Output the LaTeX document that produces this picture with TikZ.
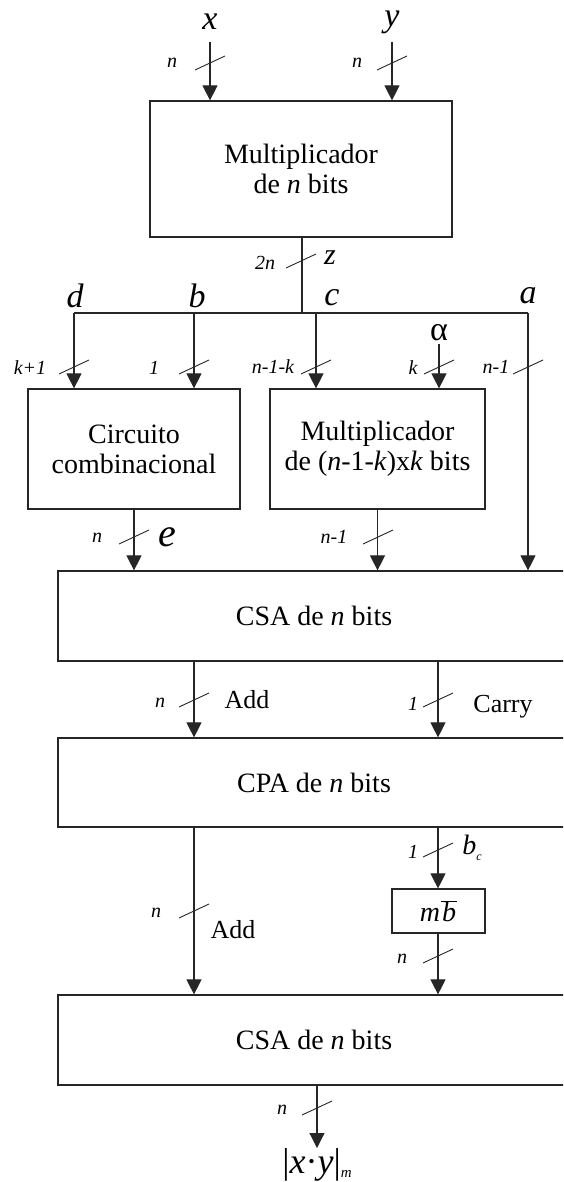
\documentclass[tikz,border=0pt]{standalone}
\usepackage{fontspec}
\setmainfont{Liberation Serif}
\usetikzlibrary{arrows.meta,calc}
\begin{document}
\begin{tikzpicture}[x=1pt,y=-1pt,
  line width=1.1pt, draw=black!85,
  arr/.style={-{Triangle[length=15pt,width=15pt]}},
  blk/.style={draw, line width=1.2pt, inner sep=0pt, align=center, font=\fontsize{28}{30}\selectfont},
  small/.style={inner sep=0pt, font=\fontsize{20}{20}\selectfont\itshape},
  big/.style={inner sep=0pt, font=\fontsize{34}{34}\selectfont\itshape},
  lbl/.style={inner sep=0pt, font=\fontsize{26}{26}\selectfont},
  busmark/.pic={\draw[line width=0.9pt] (-15,7) -- (15,-7);}
]
\clip (0,0) rectangle (563,1182);
% blocks
\node[blk, minimum width=302pt, minimum height=136pt] (mul) at (301,169) {Multiplicador\\de \textit{n} bits};
\node[blk, minimum width=212pt, minimum height=120pt] (comb) at (134,449) {Circuito\\combinacional};
\node[blk, minimum width=215pt, minimum height=120pt] (mulk) at (377.5,449) {Multiplicador\\de (\textit{n}-1-\textit{k})x\textit{k} bits};
\node[blk, minimum width=512pt, minimum height=90pt] (csa1) at (314,616) {CSA de \textit{n} bits};
\node[blk, minimum width=512pt, minimum height=89pt] (cpa) at (314,782.5) {CPA de \textit{n} bits};
\node[blk, minimum width=512pt, minimum height=90pt] (csa2) at (314,1040) {CSA de \textit{n} bits};
\node[blk, minimum width=93pt, minimum height=44pt] (mb) at (438.5,911) {\textit{m}\kern1pt$\overline{\mbox{\kern1pt\textit{b}\kern1pt}}$};
\node[inner sep=0pt, anchor=north, font=\fontsize{36}{36}\selectfont] (out) at (317,1148) {|\textit{x}·\textit{y}|\raisebox{-4pt}{\fontsize{15}{15}\selectfont\textit{m}}};
% coordinates
\coordinate (xin) at (210,42);
\coordinate (yin) at (392,42);
\coordinate (zj) at (302,313);
\coordinate (dj) at (74,313);
\coordinate (bj) at (194,313);
\coordinate (cj) at (316,313);
\coordinate (aj) at (528,313);
\coordinate (colA) at (194,0);
\coordinate (colB) at (438,0);
% top inputs
\node[big] (lx) at (210,22) {x};
\node[big] (ly) at (392,22) {y};
\draw[arr] (xin) -- (xin |- mul.north);
\draw[arr] (yin) -- (yin |- mul.north);
\pic at (210,63) {busmark};
\pic at (392,63) {busmark};
\node[small] (nx) at (172,63) {n};
\node[small] (ny) at (357,63) {n};
% z and bus
\draw (mul.south -| zj) -- (zj);
\pic at (301,261) {busmark};
\node[small] (n2n) at (265,263) {2n};
\node[big, font=\fontsize{30}{30}\selectfont\itshape] (lz) at (330,258) {z};
\draw (dj) -- (aj);
\node[big] (ld) at (75,296) {d};
\node[big] (lb) at (197,296) {b};
\node[big] (lc) at (332,298) {c};
\node[big] (la) at (528,296) {a};
\node[inner sep=2pt, font=\fontsize{34}{34}\selectfont] (alpha) at (439,333) {α};
\draw[arr] (dj) -- (dj |- comb.north);
\draw[arr] (bj) -- (bj |- comb.north);
\draw[arr] (cj) -- (cj |- mulk.north);
\draw[arr] (alpha.south) -- (alpha.south |- mulk.north);
\draw[arr] (aj) -- (aj |- csa1.north);
\pic at (74,367) {busmark};
\pic at (194,367) {busmark};
\pic at (316,367) {busmark};
\pic at (439,367) {busmark};
\pic at (528,367) {busmark};
\node[small] (nk1) at (30,368) {k+1};
\node[small] (n1b) at (154,368) {1};
\node[small] (nc) at (273,367) {n-1-k};
\node[small] (nk) at (413,368) {k};
\node[small] (na) at (496,367) {n-1};
% into CSA1
\draw[arr] (comb.south) -- (comb.south |- csa1.north);
\draw[arr] (mulk.south) -- (mulk.south |- csa1.north);
\pic at (134,537) {busmark};
\pic at (378,537) {busmark};
\node[small] (ne) at (97,538) {n};
\node[big, font=\fontsize{40}{40}\selectfont\itshape] (le) at (167,537) {e};
\node[small] (nm) at (334,537) {n-1};
% CSA1 -> CPA
\draw[arr] (csa1.south -| colA) -- (cpa.north -| colA);
\draw[arr] (csa1.south -| colB) -- (cpa.north -| colB);
\pic at (194,700) {busmark};
\pic at (438,700) {busmark};
\node[small] (nadd) at (160,703) {n};
\node[lbl] (ladd) at (247,700) {Add};
\node[small] (ncar) at (413,704) {1};
\node[lbl] (lcar) at (503,707) {Carry};
% CPA -> CSA2 / mb
\draw[arr] (cpa.south -| colA) -- (csa2.north -| colA);
\draw[arr] (cpa.south -| colB) -- (mb.north -| colB);
\draw[arr] (mb.south -| colB) -- (csa2.north -| colB);
\pic at (438,850) {busmark};
\pic at (194,911) {busmark};
\pic at (438,956) {busmark};
\node[small] (nbc) at (413,852) {1};
\node[inner sep=0pt, font=\fontsize{28}{28}\selectfont] (lbc) at (472,848) {\textit{b}\raisebox{-6pt}{\fontsize{12}{12}\selectfont\textit{c}}};
\node[small] (nadd2) at (156,913) {n};
\node[lbl] (ladd2) at (233,930) {Add};
\node[small] (nmb) at (402,959) {n};
% output
\draw[arr] (out |- csa2.south) -- (out.north);
\pic at (317,1108) {busmark};
\node[small] (nout) at (282,1110) {n};
\end{tikzpicture}
\end{document}
